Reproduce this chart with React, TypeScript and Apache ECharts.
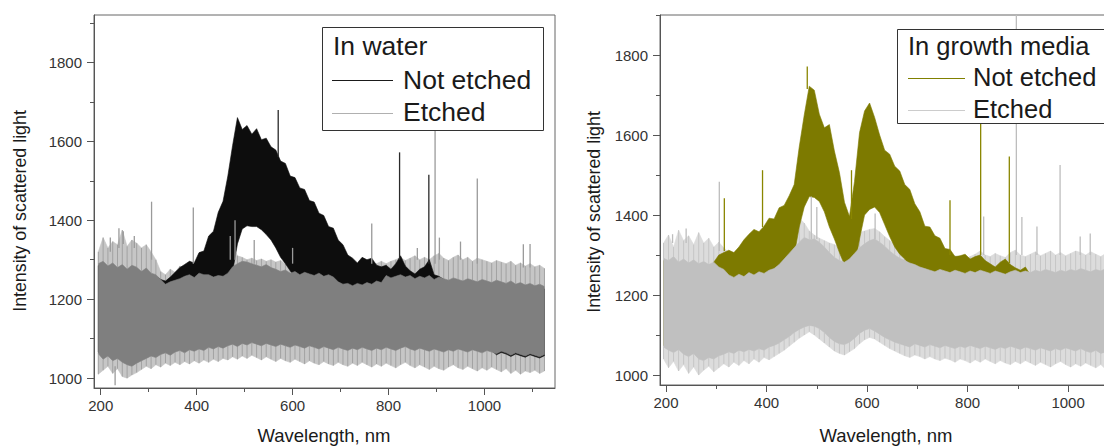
import React, { useEffect, useRef } from "react";
import * as echarts from "echarts";

// wavelength sampling grid (nm)
const WL = [
  195, 205, 215, 225, 235, 245, 255, 265, 275, 285,
  295, 305, 315, 325, 335, 345, 355, 365, 375, 385,
  395, 405, 415, 425, 435, 445, 455, 465, 475, 485,
  495, 505, 515, 525, 535, 545, 555, 565, 575, 585,
  595, 605, 615, 625, 635, 645, 655, 665, 675, 685,
  695, 705, 715, 725, 735, 745, 755, 765, 775, 785,
  795, 805, 815, 825, 835, 845, 855, 865, 875, 885,
  895, 905, 915, 925, 935, 945, 955, 965, 975, 985,
  995, 1005, 1015, 1025, 1035, 1045, 1055, 1065, 1075, 1085,
  1095, 1105, 1115, 1125,
];

// ---------- Left panel: In water ----------
const WATER_ETCHED_HI_OUTER = [
  1320, 1356, 1330, 1346, 1338, 1375, 1334, 1350, 1342, 1330,
  1338, 1320, 1300, 1270, 1262, 1276, 1268, 1284, 1280, 1296,
  1290, 1300, 1296, 1306, 1300, 1312, 1316, 1320, 1336, 1310,
  1306, 1300, 1304, 1298, 1302, 1296, 1300, 1294, 1298, 1290,
  1300, 1304, 1296, 1300, 1294, 1298, 1290, 1296, 1288, 1292,
  1286, 1290, 1284, 1290, 1286, 1292, 1288, 1294, 1290, 1296,
  1290, 1296, 1300, 1306, 1298, 1304, 1310, 1300, 1306, 1300,
  1310, 1316, 1304, 1298, 1306, 1312, 1300, 1306, 1296, 1304,
  1300, 1296, 1292, 1298, 1294, 1290, 1296, 1286, 1292, 1284,
  1290, 1282, 1286, 1278,
];
const WATER_ETCHED_HI = [
  1290, 1296, 1284, 1292, 1280, 1288, 1276, 1286, 1281, 1270,
  1279, 1266, 1262, 1250, 1238, 1244, 1248, 1252, 1258, 1262,
  1255, 1266, 1262, 1262, 1256, 1260, 1258, 1266, 1282, 1290,
  1296, 1294, 1290, 1286, 1282, 1288, 1280, 1276, 1270, 1274,
  1266, 1270, 1262, 1268, 1264, 1260, 1266, 1258, 1262, 1256,
  1244, 1238, 1240, 1234, 1240, 1236, 1242, 1238, 1246, 1242,
  1260, 1254, 1258, 1262, 1256, 1260, 1252, 1258, 1254, 1260,
  1250, 1256, 1252, 1248, 1254, 1250, 1246, 1252, 1248, 1244,
  1250, 1246, 1242, 1248, 1244, 1240, 1246, 1238, 1242, 1236,
  1240, 1234, 1238, 1232,
];
const WATER_ETCHED_LO = [
  1062, 1048, 1056, 1044, 1050, 1040, 1034, 1030, 1038, 1044,
  1050, 1056, 1052, 1060, 1064, 1058, 1066, 1070, 1064, 1072,
  1068, 1074, 1070, 1078, 1074, 1080, 1076, 1082, 1086, 1080,
  1088, 1084, 1090, 1086, 1082, 1088, 1084, 1080, 1086, 1082,
  1078, 1084, 1080, 1076, 1082, 1078, 1074, 1080, 1076, 1072,
  1078, 1074, 1070, 1076, 1072, 1078, 1074, 1070, 1076, 1072,
  1078, 1074, 1070, 1076, 1080, 1074, 1070, 1076, 1072, 1068,
  1074, 1070, 1066, 1072, 1068, 1074, 1070, 1066, 1072, 1068,
  1064, 1070, 1066, 1062, 1068, 1064, 1058, 1064, 1060, 1056,
  1062, 1058, 1054, 1060,
];
const WATER_ETCHED_LO_OUTER = [
  1010, 1020, 1030, 1012, 1024, 1004, 1000, 1008, 1014, 1022,
  1030, 1024, 1034, 1028, 1038, 1032, 1040, 1034, 1042, 1036,
  1044, 1038, 1046, 1040, 1048, 1042, 1050, 1046, 1054, 1048,
  1056, 1050, 1058, 1052, 1046, 1054, 1048, 1042, 1050, 1044,
  1040, 1048, 1042, 1036, 1044, 1038, 1034, 1042, 1036, 1032,
  1040, 1034, 1030, 1038, 1032, 1040, 1034, 1028, 1036, 1030,
  1038, 1032, 1026, 1034, 1040, 1032, 1026, 1034, 1028, 1022,
  1030, 1024, 1020, 1028, 1034, 1026, 1022, 1030, 1024, 1018,
  1026, 1020, 1028, 1022, 1016, 1024, 1012, 1020, 1010, 1018,
  1014, 1020, 1012, 1018,
];
const WATER_NOT_HI = [
  1285, 1290, 1280, 1288, 1276, 1284, 1272, 1280, 1276, 1268,
  1274, 1262, 1258, 1250, 1246, 1256, 1268, 1280, 1288, 1296,
  1292, 1318, 1322, 1360, 1372, 1420, 1448, 1512, 1590, 1660,
  1630, 1640, 1618, 1632, 1604, 1608, 1586, 1578, 1550, 1544,
  1512, 1508, 1482, 1478, 1450, 1446, 1418, 1412, 1384, 1380,
  1350, 1338, 1312, 1304, 1292, 1306, 1300, 1304, 1286, 1282,
  1286, 1276, 1290, 1310, 1284, 1272, 1264, 1276, 1282, 1300,
  1262, 1258, 1250, 1242, 1248, 1244, 1240, 1246, 1242, 1238,
  1244, 1240, 1236, 1242, 1238, 1234, 1240, 1232, 1236, 1230,
  1234, 1228, 1232, 1226,
];
const WATER_NOT_LO = [
  1066, 1052, 1060, 1048, 1054, 1044, 1038, 1034, 1042, 1048,
  1054, 1060, 1056, 1082, 1094, 1098, 1112, 1118, 1134, 1138,
  1152, 1158, 1172, 1184, 1196, 1206, 1222, 1240, 1270, 1340,
  1378, 1386, 1384, 1384, 1376, 1364, 1350, 1330, 1306, 1290,
  1272, 1256, 1240, 1228, 1218, 1212, 1208, 1206, 1210, 1204,
  1208, 1212, 1210, 1206, 1200, 1196, 1190, 1184, 1178, 1170,
  1164, 1158, 1150, 1144, 1136, 1128, 1120, 1112, 1104, 1098,
  1090, 1084, 1080, 1076, 1072, 1078, 1074, 1070, 1076, 1072,
  1068, 1074, 1070, 1059, 1065, 1061, 1055, 1061, 1057, 1053,
  1059, 1055, 1051, 1057,
];
// isolated spikes: [wavelength, from, to, series (0 = etched, 1 = not etched)]
const WATER_SPIKES = [
  [220, 1320, 1356, 0], [238, 1330, 1380, 0], [247, 1340, 1372, 0], [270, 1330, 1360, 0],
  [306, 1300, 1447, 0], [393, 1290, 1432, 0], [470, 1300, 1360, 0], [480, 1300, 1400, 0],
  [520, 1290, 1350, 0], [570, 1560, 1679, 1], [600, 1290, 1330, 0], [765, 1290, 1392, 0],
  [823, 1300, 1572, 1], [860, 1300, 1330, 0], [884, 1290, 1515, 1], [897, 1290, 1800, 0],
  [906, 1300, 1356, 0], [950, 1300, 1346, 0], [985, 1290, 1506, 0], [1081, 1280, 1339, 0],
  [1095, 1280, 1340, 0], [230, 1030, 982, 0],
];

// ---------- Right panel: In growth media ----------
const MEDIA_ETCHED_HI_OUTER = [
  1330, 1350, 1320, 1362, 1336, 1348, 1326, 1356, 1330, 1342,
  1320, 1332, 1318, 1306, 1300, 1312, 1306, 1318, 1310, 1322,
  1316, 1330, 1338, 1344, 1352, 1362, 1374, 1392, 1380, 1360,
  1350, 1342, 1336, 1330, 1326, 1318, 1314, 1326, 1342, 1356,
  1360, 1364, 1366, 1358, 1346, 1336, 1326, 1316, 1308, 1302,
  1298, 1294, 1290, 1290, 1296, 1300, 1294, 1290, 1298, 1294,
  1290, 1296, 1302, 1310, 1300, 1296, 1304, 1298, 1294, 1306,
  1312, 1300, 1296, 1302, 1308, 1298, 1304, 1310, 1300, 1306,
  1298, 1304, 1310, 1306, 1300, 1308, 1302, 1296, 1304, 1298,
  1306, 1300, 1296, 1302,
];
const MEDIA_ETCHED_HI = [
  1292, 1286, 1296, 1282, 1290, 1280, 1288, 1278, 1284, 1276,
  1282, 1270, 1264, 1250, 1244, 1252, 1246, 1256, 1250, 1258,
  1254, 1262, 1266, 1276, 1290, 1304, 1318, 1332, 1344, 1338,
  1340, 1332, 1320, 1306, 1294, 1286, 1282, 1290, 1304, 1318,
  1328, 1336, 1340, 1332, 1322, 1310, 1300, 1292, 1286, 1280,
  1276, 1270, 1266, 1262, 1258, 1264, 1260, 1256, 1262, 1258,
  1254, 1260, 1256, 1262, 1258, 1254, 1260, 1256, 1252, 1258,
  1262, 1256, 1260, 1256, 1262, 1258, 1264, 1260, 1256, 1262,
  1258, 1264, 1260, 1266, 1262, 1258, 1264, 1260, 1266, 1262,
  1258, 1264, 1260, 1256,
];
const MEDIA_ETCHED_LO = [
  1070, 1062, 1056, 1064, 1052, 1046, 1054, 1040, 1036, 1044,
  1040, 1048, 1052, 1058, 1054, 1062, 1058, 1064, 1060, 1066,
  1062, 1070, 1074, 1080, 1088, 1096, 1106, 1114, 1120, 1124,
  1122, 1116, 1106, 1094, 1084, 1078, 1076, 1082, 1092, 1104,
  1112, 1116, 1110, 1102, 1094, 1088, 1082, 1078, 1074, 1070,
  1078, 1074, 1070, 1076, 1072, 1068, 1074, 1070, 1066, 1072,
  1068, 1074, 1070, 1066, 1072, 1068, 1064, 1070, 1066, 1072,
  1068, 1064, 1070, 1066, 1062, 1068, 1064, 1060, 1066, 1062,
  1068, 1064, 1060, 1066, 1060, 1056, 1062, 1054, 1058, 1052,
  1058, 1054, 1060, 1056,
];
const MEDIA_ETCHED_LO_OUTER = [
  1040, 1018, 1034, 1010, 1026, 1004, 1020, 1000, 1012, 1022,
  1008, 1018, 1028, 1020, 1032, 1024, 1036, 1028, 1040, 1032,
  1044, 1038, 1046, 1054, 1062, 1072, 1082, 1092, 1100, 1108,
  1100, 1090, 1080, 1070, 1060, 1054, 1050, 1058, 1066, 1078,
  1088, 1094, 1090, 1082, 1074, 1066, 1060, 1054, 1048, 1044,
  1050, 1046, 1040, 1046, 1040, 1036, 1042, 1038, 1032, 1040,
  1036, 1030, 1038, 1032, 1040, 1034, 1028, 1036, 1030, 1026,
  1034, 1028, 1036, 1030, 1024, 1032, 1026, 1020, 1028, 1034,
  1026, 1020, 1028, 1022, 1030, 1024, 1018, 1026, 1014, 1022,
  1016, 1010, 1018, 1012,
];
const MEDIA_NOT_HI = [
  1286, 1280, 1290, 1276, 1284, 1274, 1282, 1270, 1278, 1268,
  1282, 1300, 1306, 1312, 1306, 1320, 1338, 1352, 1364, 1358,
  1372, 1392, 1390, 1418, 1424, 1448, 1476, 1570, 1650, 1722,
  1712, 1652, 1618, 1626, 1560, 1506, 1432, 1396, 1484, 1606,
  1660, 1680, 1644, 1600, 1562, 1552, 1522, 1510, 1476, 1464,
  1428, 1408, 1372, 1370, 1348, 1342, 1316, 1314, 1296, 1298,
  1302, 1290, 1296, 1300, 1286, 1278, 1270, 1282, 1290, 1276,
  1268, 1262, 1270, 1250, 1256, 1252, 1258, 1254, 1250, 1256,
  1252, 1258, 1254, 1260, 1256, 1252, 1258, 1254, 1260, 1256,
  1252, 1258, 1254, 1250,
];
const MEDIA_NOT_LO = [
  1074, 1066, 1060, 1068, 1056, 1050, 1058, 1044, 1040, 1048,
  1044, 1052, 1056, 1226, 1232, 1222, 1236, 1228, 1240, 1232,
  1246, 1238, 1250, 1262, 1270, 1284, 1300, 1370, 1420, 1446,
  1444, 1434, 1408, 1370, 1340, 1306, 1276, 1258, 1270, 1340,
  1400, 1414, 1420, 1406, 1376, 1346, 1320, 1302, 1290, 1274,
  1260, 1254, 1242, 1236, 1230, 1224, 1228, 1222, 1230, 1226,
  1232, 1236, 1240, 1236, 1240, 1232, 1238, 1230, 1226, 1232,
  1228, 1222, 1226, 1220, 1216, 1222, 1218, 1214, 1220, 1216,
  1212, 1218, 1214, 1220, 1216, 1212, 1218, 1214, 1220, 1216,
  1212, 1218, 1214, 1210,
];
const MEDIA_SPIKES = [
  [213, 1330, 1352, 0], [240, 1330, 1366, 0], [306, 1310, 1483, 0], [316, 1310, 1442, 1],
  [392, 1370, 1512, 1], [481, 1715, 1771, 1], [489, 1340, 1446, 0], [500, 1340, 1420, 0],
  [569, 1390, 1512, 1], [616, 1340, 1404, 0], [765, 1300, 1437, 1], [826, 1300, 1640, 1],
  [832, 1300, 1396, 0], [883, 1280, 1546, 1], [897, 1300, 1900, 0], [908, 1300, 1395, 0],
  [938, 1300, 1371, 0], [984, 1300, 1525, 0], [1024, 1300, 1346, 0], [1044, 1300, 1354, 0],
];

// ticks
const X_MAJOR = [200, 400, 600, 800, 1000];
const X_MINOR = [300, 500, 700, 900, 1100];
const Y_MAJOR = [1000, 1200, 1400, 1600, 1800];
const Y_MINOR = [1100, 1300, 1500, 1700, 1900];

const FONT = "'Liberation Sans', Arial, Helvetica, sans-serif";
const AXIS_COLOR = "#555";

function band(ax: number, lo: number[], hi: number[], color: string, z: number) {
  return {
    type: "custom",
    xAxisIndex: ax,
    yAxisIndex: ax,
    clip: true,
    silent: true,
    z,
    data: WL.map((x, i) => [x, lo[i], hi[i]]),
    encode: { x: 0, y: [1, 2] },
    renderItem: (params: any, api: any) => {
      if (params.dataIndex !== 0) return null;
      const pts: number[][] = [];
      for (let i = 0; i < WL.length; i++) pts.push(api.coord([WL[i], hi[i]]));
      for (let i = WL.length - 1; i >= 0; i--) pts.push(api.coord([WL[i], lo[i]]));
      return { type: "polygon", shape: { points: pts }, style: { fill: color, stroke: color, lineWidth: 0.6 } };
    },
  };
}

// vertical noise strokes of the fringe, one per sample, from core edge to outer edge
function comb(ax: number, inHi: number[], outHi: number[], inLo: number[], outLo: number[], color: string, z: number) {
  return {
    type: "custom",
    xAxisIndex: ax,
    yAxisIndex: ax,
    clip: true,
    silent: true,
    z,
    data: WL.map((x, i) => [x, outLo[i], outHi[i]]),
    encode: { x: 0, y: [1, 2] },
    renderItem: (params: any, api: any) => {
      const i = params.dataIndex;
      const a = api.coord([WL[i], inHi[i]]);
      const b = api.coord([WL[i], outHi[i]]);
      const c = api.coord([WL[i], inLo[i]]);
      const d = api.coord([WL[i], outLo[i]]);
      return {
        type: "group",
        children: [
          { type: "line", shape: { x1: a[0], y1: a[1], x2: b[0], y2: b[1] }, style: { stroke: color, lineWidth: 1 } },
          { type: "line", shape: { x1: c[0], y1: c[1], x2: d[0], y2: d[1] }, style: { stroke: color, lineWidth: 1 } },
        ],
      };
    },
  };
}

function spikes(ax: number, list: number[][], colE: string, colN: string, z: number) {
  return {
    type: "custom",
    xAxisIndex: ax,
    yAxisIndex: ax,
    clip: true,
    silent: true,
    z,
    data: list,
    encode: { x: 0, y: [1, 2] },
    renderItem: (params: any, api: any) => {
      const a = api.coord([api.value(0), api.value(1)]);
      const b = api.coord([api.value(0), api.value(2)]);
      const k = api.value(3);
      return {
        type: "line",
        shape: { x1: a[0], y1: a[1], x2: b[0], y2: b[1] },
        style: { stroke: k ? colN : colE, lineWidth: 1.3 },
      };
    },
  };
}

const plainLabel = (v: number) => String(v);

function xAxes(grid: number, min: number, max: number) {
  return [
    {
      gridIndex: grid, type: "value", min, max, position: "bottom",
      axisLine: { show: true, lineStyle: { color: AXIS_COLOR, width: 1 } },
      axisTick: { show: true, customValues: X_MAJOR, length: 7, inside: false, lineStyle: { color: AXIS_COLOR } },
      axisLabel: { customValues: X_MAJOR, formatter: plainLabel, fontSize: 15, color: "#333", fontFamily: FONT, margin: 10 },
      splitLine: { show: false },
    },
    {
      gridIndex: grid, type: "value", min, max, position: "bottom",
      axisLine: { show: false },
      axisTick: { show: true, customValues: X_MINOR, length: 4, inside: false, lineStyle: { color: AXIS_COLOR } },
      axisLabel: { show: false },
      splitLine: { show: false },
    },
  ];
}
function yAxes(grid: number, min: number, max: number) {
  return [
    {
      gridIndex: grid, type: "value", min, max, position: "left",
      axisLine: { show: true, lineStyle: { color: AXIS_COLOR, width: 1 } },
      axisTick: { show: true, customValues: Y_MAJOR, length: 7, inside: false, lineStyle: { color: AXIS_COLOR } },
      axisLabel: { customValues: Y_MAJOR, formatter: plainLabel, fontSize: 15, color: "#333", fontFamily: FONT, margin: 12 },
      splitLine: { show: false },
    },
    {
      gridIndex: grid, type: "value", min, max, position: "left",
      axisLine: { show: false },
      axisTick: { show: true, customValues: Y_MINOR, length: 4, inside: false, lineStyle: { color: AXIS_COLOR } },
      axisLabel: { show: false },
      splitLine: { show: false },
    },
  ];
}

function txt(x: number, y: number, text: string, size: number, align = "left", rotation = 0) {
  return {
    type: "text", x, y, rotation, z: 100, silent: true,
    style: { text, fill: "#1a1a1a", font: `${size}px ${FONT}`, align, verticalAlign: "middle" },
  };
}
function seg(x1: number, y1: number, x2: number, y2: number, color: string) {
  return { type: "line", z: 100, silent: true, shape: { x1, y1, x2, y2 }, style: { stroke: color, lineWidth: 1.2 } };
}

export default function App() {
  const ref = useRef<HTMLDivElement>(null);
  useEffect(() => {
    if (!ref.current) return;
    const chart = echarts.init(ref.current, undefined, { renderer: "svg" });
    const option: any = {
      animation: false,
      backgroundColor: "#ffffff",
      grid: [
        { left: 94, top: 15, width: 461, height: 373, show: true, borderColor: "#666", borderWidth: 1, backgroundColor: "transparent" },
        { left: 660, top: 15, width: 482, height: 370, show: true, borderColor: "#666", borderWidth: 1, backgroundColor: "transparent" },
      ],
      xAxis: [...xAxes(0, 186, 1147), ...xAxes(1, 188, 1147)],
      yAxis: [...yAxes(0, 975, 1920), ...yAxes(1, 975, 1900)],
      series: [
        // left: water
        band(0, WATER_ETCHED_LO_OUTER, WATER_ETCHED_HI_OUTER, "#c6c6c6", 2),
        comb(0, WATER_ETCHED_HI, WATER_ETCHED_HI_OUTER, WATER_ETCHED_LO, WATER_ETCHED_LO_OUTER, "#a2a2a2", 2),
        band(0, WATER_NOT_LO, WATER_NOT_HI, "#0d0d0d", 3),
        band(0, WATER_ETCHED_LO, WATER_ETCHED_HI, "#7f7f7f", 4),
        spikes(0, WATER_SPIKES, "#9a9a9a", "#2a2a2a", 5),
        // right: growth media
        band(2, MEDIA_ETCHED_LO_OUTER, MEDIA_ETCHED_HI_OUTER, "#dcdcdc", 2),
        comb(2, MEDIA_ETCHED_HI, MEDIA_ETCHED_HI_OUTER, MEDIA_ETCHED_LO, MEDIA_ETCHED_LO_OUTER, "#c6c6c6", 2),
        band(2, MEDIA_NOT_LO, MEDIA_NOT_HI, "#7d7a00", 3),
        band(2, MEDIA_ETCHED_LO, MEDIA_ETCHED_HI, "#c0c0c0", 4),
        spikes(2, MEDIA_SPIKES, "#bdbdbd", "#8a8600", 5),
      ],
      graphic: {
        elements: [
          // axis titles
          txt(20, 211, "Intensity of scattered light", 17.8, "center", Math.PI / 2),
          txt(324, 435, "Wavelength, nm", 18.5, "center"),
          txt(594, 212, "Intensity of scattered light", 17.8, "center", Math.PI / 2),
          txt(886, 435, "Wavelength, nm", 18.5, "center"),
          // left legend
          { type: "rect", z: 99, silent: true, shape: { x: 322.5, y: 27.5, width: 221, height: 103 }, style: { fill: "#fff", stroke: "#333", lineWidth: 1 } },
          txt(333, 46, "In water", 26.5),
          seg(332, 80.5, 393, 80.5, "#1a1a1a"),
          txt(403, 80, "Not etched", 26.5),
          seg(332, 113.5, 393, 113.5, "#b0b0b0"),
          txt(403, 112, "Etched", 26.5),
          // right legend
          { type: "rect", z: 99, silent: true, shape: { x: 897.5, y: 29.5, width: 260, height: 94 }, style: { fill: "#fff", stroke: "#333", lineWidth: 1 } },
          txt(908, 46, "In growth media", 25.5),
          seg(908, 78.5, 965, 78.5, "#808000"),
          txt(973, 77, "Not etched", 25.5),
          seg(908, 110.5, 965, 110.5, "#cccccc"),
          txt(973, 109, "Etched", 25.5),
        ],
      },
    };
    chart.setOption(option);
    return () => chart.dispose();
  }, []);
  return (
    <div style={{ position: "fixed", left: 0, top: 0, width: 1104, height: 446, overflow: "hidden", background: "#fff" }}>
      <div ref={ref} style={{ width: 1170, height: 446 }} />
    </div>
  );
}
